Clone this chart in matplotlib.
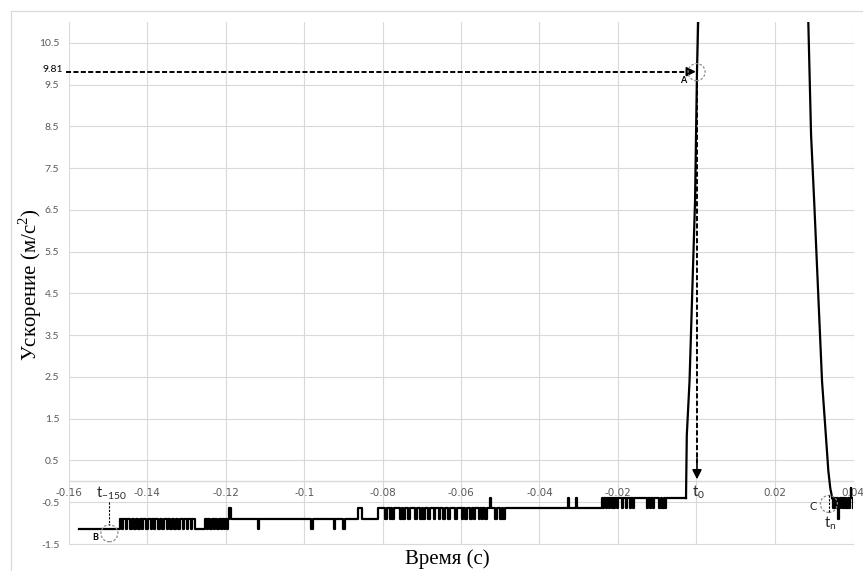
import matplotlib
matplotlib.use("Agg")
import matplotlib.pyplot as plt
from matplotlib.patches import Ellipse
from matplotlib.lines import Line2D

# ---------------- data ----------------
# quantised accelerometer levels, m/s^2
LEVELS = [-1.135, -0.89, -0.645, -0.4, -0.155]

# pre-impact signal: time of each level change (s) and the new level index
pre_t = [-0.1574,
         -0.1470, -0.1465, -0.1462, -0.1455, -0.1451, -0.1444, -0.1440, -0.1433,
         -0.1430, -0.1424, -0.1420, -0.1413, -0.1410, -0.1404, -0.1399, -0.1392,
         -0.1389, -0.1384, -0.1380, -0.1372, -0.1368, -0.1362, -0.1358, -0.1351,
         -0.1347, -0.1342, -0.1338, -0.1331, -0.1327, -0.1321, -0.1316, -0.1309,
         -0.1306, -0.1300, -0.1296, -0.1290, -0.1286, -0.1278,
         -0.1253, -0.1249, -0.1245, -0.1240, -0.1235, -0.1231, -0.1227, -0.1222,
         -0.1218, -0.1213, -0.1209, -0.1205, -0.1201, -0.1198, -0.1195, -0.1191,
         -0.1188,
         -0.1119, -0.1115, -0.0982, -0.0978, -0.0925, -0.0921, -0.0900, -0.0896,
         -0.0862, -0.0852,
         -0.0811,
         -0.0793, -0.0789, -0.0781, -0.0778, -0.0775, -0.0771, -0.0755, -0.0751,
         -0.0747, -0.0743, -0.0734, -0.0729, -0.0717, -0.0713, -0.0704, -0.0700,
         -0.0696, -0.0692, -0.0683, -0.0679, -0.0670, -0.0666, -0.0657, -0.0653,
         -0.0645, -0.0641, -0.0632, -0.0628, -0.0615, -0.0611, -0.0598, -0.0594,
         -0.0589, -0.0585, -0.0577, -0.0573, -0.0568, -0.0564, -0.0555, -0.0551,
         -0.0547, -0.0543, -0.0538, -0.0534, -0.0527, -0.0524, -0.0513, -0.0509,
         -0.0500, -0.0496, -0.0492, -0.0488,
         -0.0328, -0.0325, -0.0307, -0.0304,
         -0.0240, -0.0237, -0.0234, -0.0230, -0.0227, -0.0223, -0.0220, -0.0216,
         -0.0213, -0.0209, -0.0206, -0.0203, -0.0200,
         -0.0190, -0.0187, -0.0179, -0.0176, -0.0170, -0.0167, -0.0161, -0.0158,
         -0.0125, -0.0122, -0.0119, -0.0116, -0.0111, -0.0108,
         -0.0094, -0.0091, -0.0086, -0.0083, -0.0079, -0.0076,
         -0.0026]
pre_k = [0,
         1, 0, 1, 0, 1, 0, 1, 0,
         1, 0, 1, 0, 1, 0, 1, 0,
         1, 0, 1, 0, 1, 0, 1, 0,
         1, 0, 1, 0, 1, 0, 1, 0,
         1, 0, 1, 0, 1, 0,
         1, 0, 1, 0, 1, 0, 1, 0,
         1, 0, 1, 0, 1, 0, 1, 2,
         1,
         0, 1, 0, 1, 0, 1, 0, 1,
         2, 1,
         2,
         1, 2, 1, 2, 1, 2, 1, 2,
         1, 2, 1, 2, 1, 2, 1, 2,
         1, 2, 1, 2, 1, 2, 1, 2,
         1, 2, 1, 2, 1, 2, 1, 2,
         1, 2, 1, 2, 1, 2, 1, 2,
         1, 2, 1, 2, 3, 2, 1, 2,
         1, 2, 1, 2,
         3, 2, 3, 2,
         3, 2, 3, 2, 3, 2, 3, 2,
         3, 2, 3, 2, 3,
         2, 3, 2, 3, 2, 3, 2, 3,
         2, 3, 2, 3, 2, 3,
         2, 3, 2, 3, 2, 3,
         3]

# impact rise (s, m/s^2)
rise_t = [-0.0026, -0.0024, -0.0017, -0.0003, 0.0002, 0.0005, 0.0010]
rise_a = [-0.40, 1.10, 2.40, 6.70, 9.81, 11.00, 12.50]

# fall back after the peak (s, m/s^2)
fall_t = [0.0280, 0.0286, 0.0293, 0.0301, 0.0321, 0.0327, 0.0333, 0.0337, 0.0342, 0.0347]
fall_a = [12.50, 11.00, 8.30, 6.70, 2.40, 1.60, 0.80, 0.26, -0.16, -0.40]

# post-impact signal: level changes
post_t = [0.0347, 0.0350, 0.0353, 0.0356, 0.0359, 0.0362, 0.0365, 0.0368, 0.0371,
          0.0374, 0.0377, 0.0380, 0.0383, 0.0386, 0.0389, 0.0392, 0.0394, 0.0396,
          0.0399, 0.0401]
post_k = [3, 2, 3, 2, 3, 1, 2, 3, 2, 3, 2, 3, 2, 3, 2, 3, 4, 3, 2, 2]

x_ticks = [-0.16, -0.14, -0.12, -0.10, -0.08, -0.06, -0.04, -0.02, 0.0, 0.02, 0.04]
x_labels = ["-0.16", "-0.14", "-0.12", "-0.1", "-0.08", "-0.06", "-0.04", "-0.02", "", "0.02", "0.04"]
y_ticks = [-1.5, -0.5, 0.5, 1.5, 2.5, 3.5, 4.5, 5.5, 6.5, 7.5, 8.5, 9.5, 10.5]
y_labels = ["-1.5", "-0.5", "0.5", "1.5", "2.5", "3.5", "4.5", "5.5", "6.5", "7.5", "8.5", "9.5", "10.5"]
G = 9.81
t150 = -0.1497
t_n = 0.0340

# ---------------- figure ----------------
W, H = 863, 571
fig = plt.figure(figsize=(W / 100, H / 100), dpi=100)
ax = fig.add_axes([69 / W, 1 - 544 / H, (853 - 69) / W, (544 - 22) / H])

GRID = "#d9d9d9"
TICK = "#595959"
SANS = "Lato"
SERIF = "Liberation Serif"

ax.set_xlim(-0.16, 0.04)
ax.set_ylim(-1.5, 11.0)
ax.set_xticks(x_ticks)
ax.set_xticklabels(x_labels)
ax.set_yticks(y_ticks)
ax.set_yticklabels(y_labels)
for lab in ax.get_xticklabels() + ax.get_yticklabels():
    lab.set_family(SANS)
ax.tick_params(axis="both", length=0, labelsize=7.5, labelcolor=TICK)
ax.tick_params(axis="x", pad=5.0)
ax.tick_params(axis="y", pad=7)
ax.grid(True, color=GRID, lw=0.8)
ax.set_axisbelow(True)
for ln in ax.get_xgridlines() + ax.get_ygridlines():
    ln.set_clip_on(False)
for s in ["top", "right", "left"]:
    ax.spines[s].set_visible(False)
ax.spines["bottom"].set_position(("data", 0))
ax.spines["bottom"].set_color(GRID)
ax.spines["bottom"].set_linewidth(1.0)
for lab in ax.get_xticklabels():
    lab.set_clip_on(False)

LW = 1.6
ax.plot(pre_t, [LEVELS[k] for k in pre_k], drawstyle="steps-post", color="black", lw=LW, zorder=3)
ax.plot(rise_t, rise_a, color="black", lw=LW, zorder=3)
ax.plot(fall_t, fall_a, color="black", lw=LW, zorder=3)
ax.plot(post_t, [LEVELS[k] for k in post_k], drawstyle="steps-post", color="black", lw=LW, zorder=3)

# ---------------- annotations ----------------
DASH = (0, (2.6, 1.2))
# horizontal g line with arrow
ax.plot([-0.1607, -0.0020], [G, G], color="black", lw=1.4, ls=DASH, clip_on=False, zorder=4)
ax.annotate("", xy=(-0.0001, G), xytext=(-0.0024, G),
            arrowprops=dict(arrowstyle="-|>,head_length=0.55,head_width=0.28", color="black",
                            lw=1.2, shrinkA=0, shrinkB=0), zorder=4)
ax.annotate("9.81", xy=(0, G), xycoords=("axes fraction", "data"), xytext=(-4.5, 1.5),
            textcoords="offset points", ha="right", va="center", fontsize=7.5,
            color="black", family=SANS)

# vertical t0 arrow
ax.plot([0.0002, 0.0002], [9.55, 0.45], color="black", lw=1.4, ls=DASH, zorder=4)
ax.annotate("", xy=(0.0002, 0.05), xytext=(0.0002, 0.55),
            arrowprops=dict(arrowstyle="-|>,head_length=0.55,head_width=0.28", color="black",
                            lw=1.2, shrinkA=0, shrinkB=0), zorder=4)

# circles
CW, CH = 17 / 3920, 17 / 41.75
CIRC = dict(fill=False, ec="#8c8c8c", lw=0.9, ls=(0, (2, 1.4)), zorder=5)
ax.add_patch(Ellipse((0.0001, 9.80), CW, CH, **CIRC))
ax.add_patch(Ellipse((t150, -1.243), CW, CH, **CIRC))
ax.add_patch(Ellipse((0.03385, -0.54), CW, CH, **CIRC))

# thin dashed markers for t-150 and tn
ax.plot([t150, t150], [-0.49, -1.04], color="black", lw=0.8, ls=(0, (2, 1.3)), zorder=5)
ax.plot([t_n, t_n], [-0.33, -0.76], color="black", lw=0.8, ls=(0, (2, 1.3)), zorder=5)

ax.text(-0.0034, 9.61, "A", fontsize=6.5, fontweight="bold", ha="center", va="center", family=SANS)
ax.text(-0.1533, -1.35, "B", fontsize=6.5, fontweight="bold", ha="center", va="center", family=SANS)
ax.text(0.0299, -0.61, "C", fontsize=8, ha="center", va="center", family=SANS, color="#262626")

TL = dict(fontsize=10.5, ha="left", va="center", family=SANS, color="#262626", clip_on=False)
ax.text(-0.1531, -0.29, r"$\mathregular{t_{-150}}$", **TL)
ax.text(-0.00115, -0.27, r"$\mathregular{t_{0}}$", **TL)
ax.text(0.03265, -1.01, r"$\mathregular{t_{n}}$", **TL)

# axis titles
fig.text(30 / W, 1 - 285 / H, r"Ускорение (м/с$^{\mathregular{2}}$)", rotation=90,
         ha="center", va="center", fontsize=15, family=SERIF)
fig.text(447 / W, 1 - 559 / H, "Время (с)", ha="center", va="center", fontsize=15, family=SERIF)

# outer chart border
fig.add_artist(Line2D([10.5 / W, 10.5 / W, 1.0], [0.0, 1 - 10.5 / H, 1 - 10.5 / H],
                      transform=fig.transFigure, color=GRID, lw=0.9))

fig.savefig("out.png", dpi=100)
